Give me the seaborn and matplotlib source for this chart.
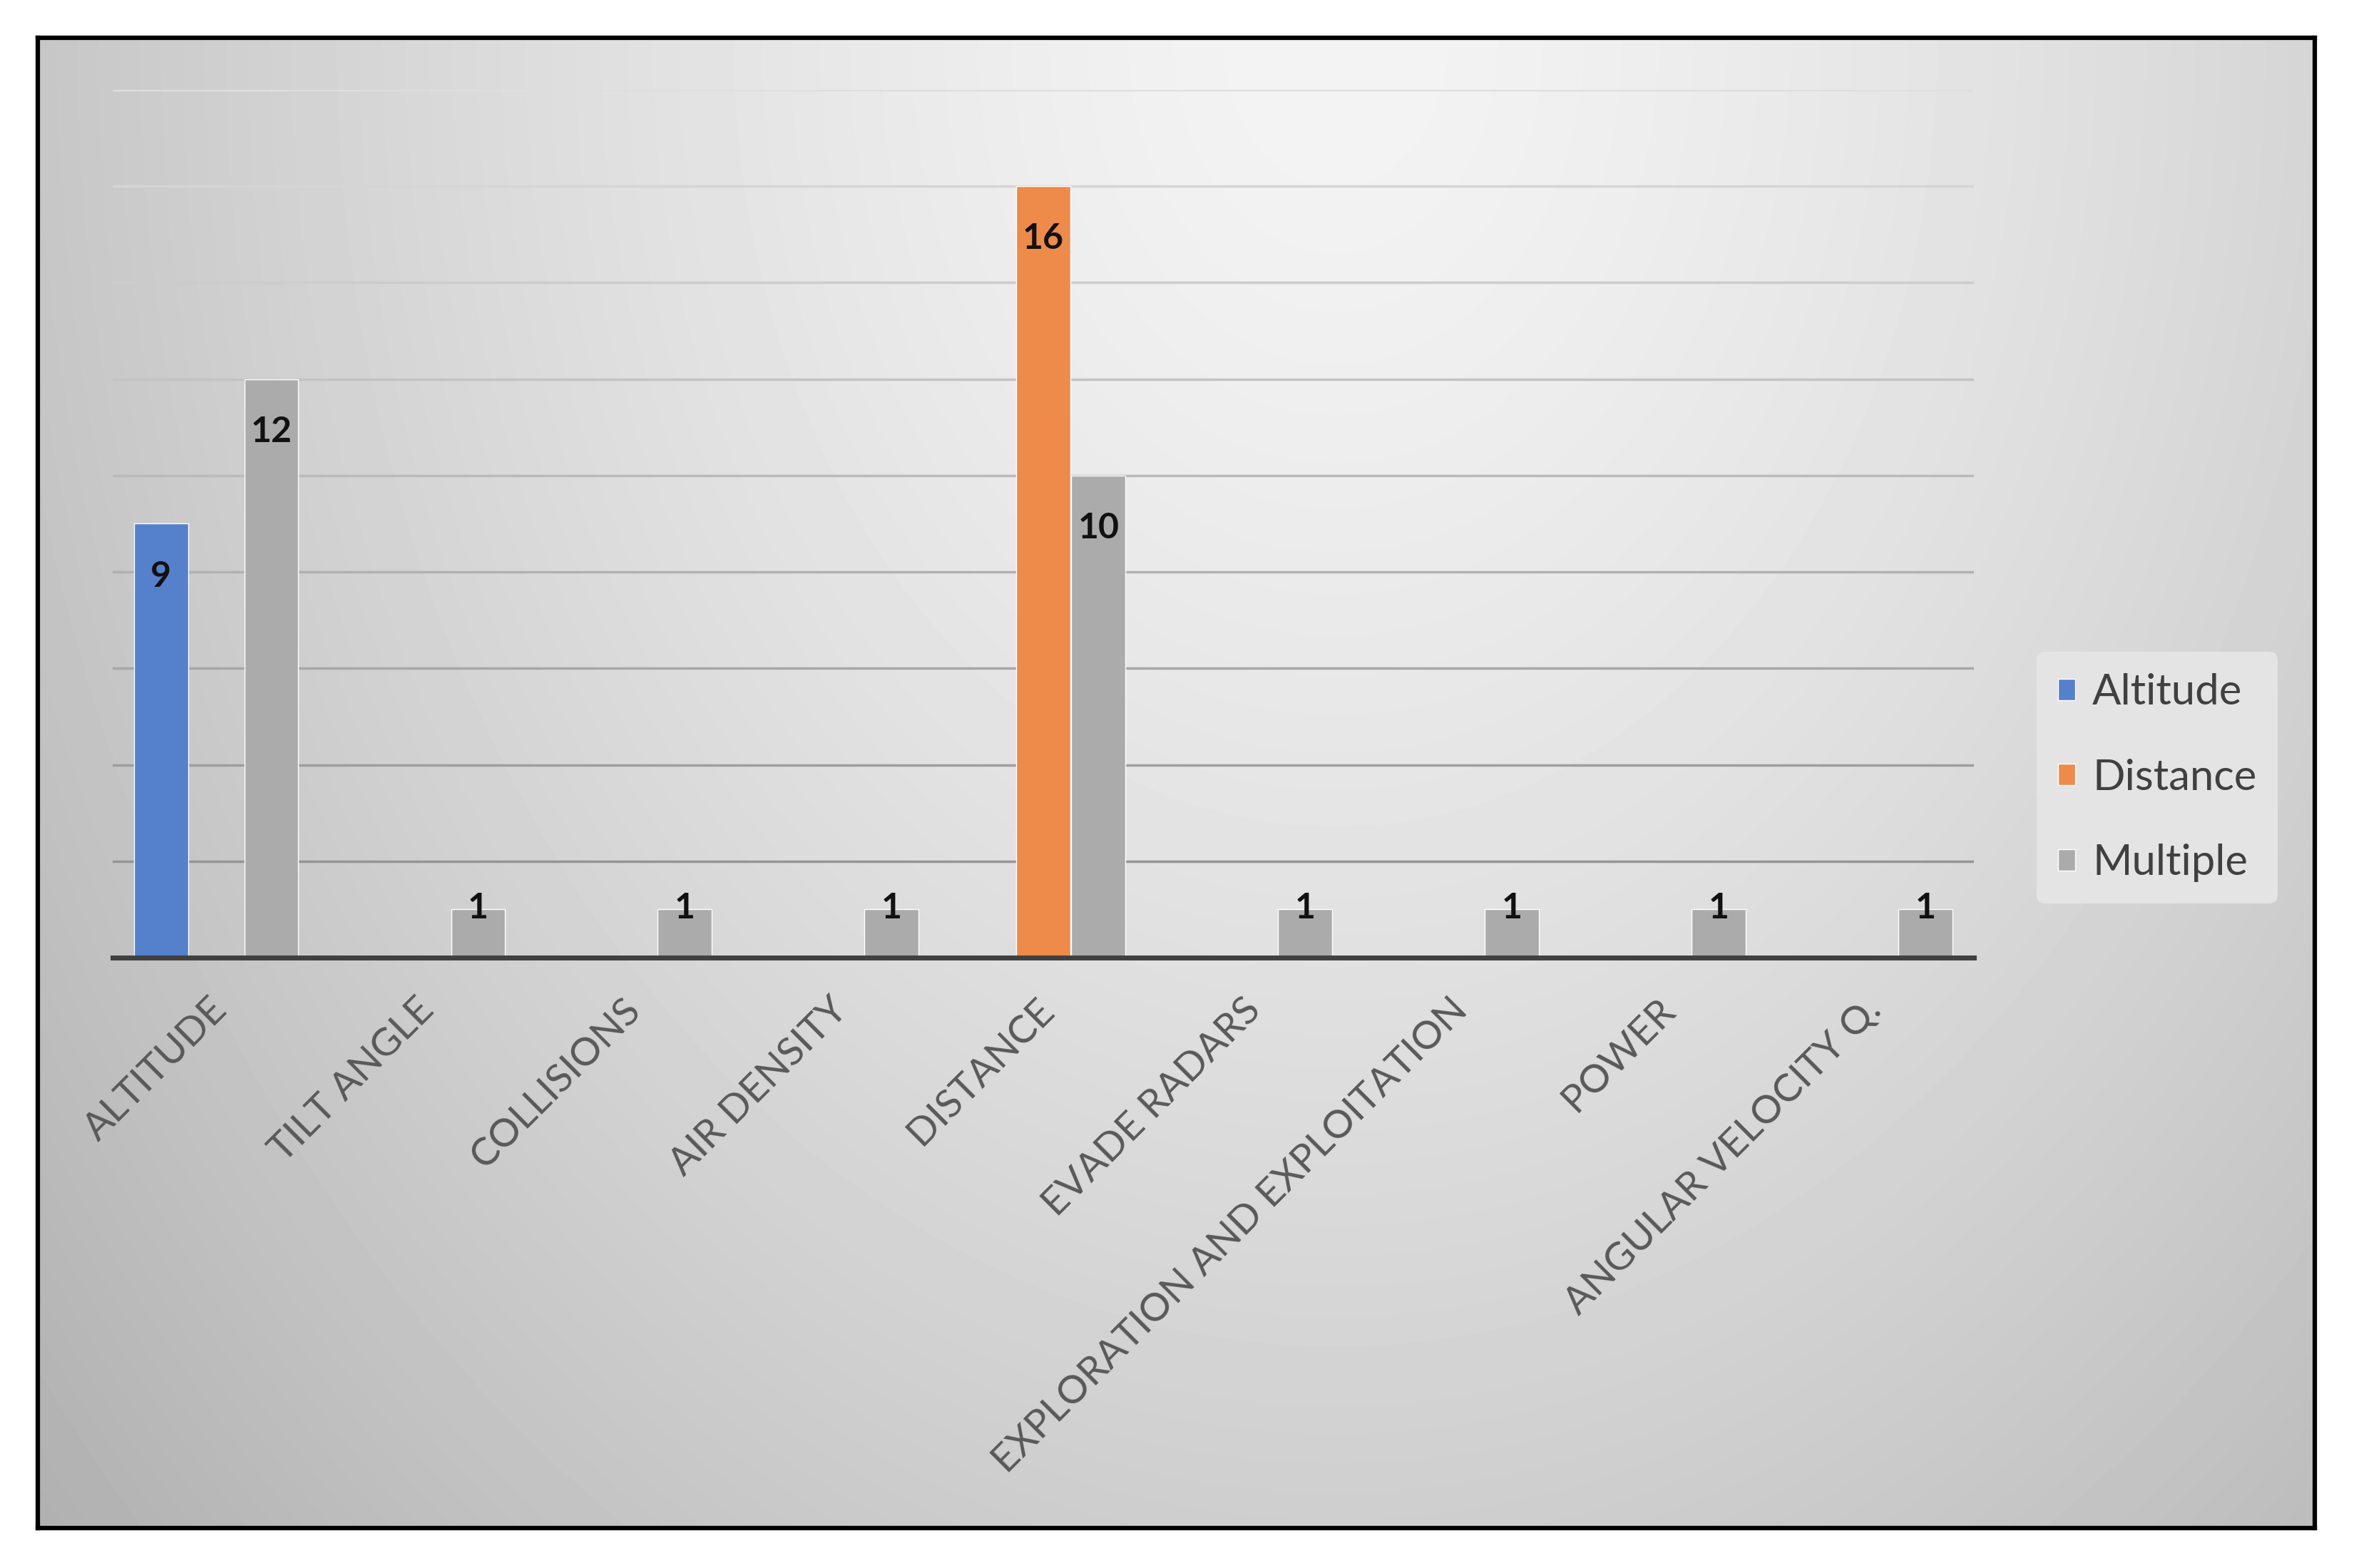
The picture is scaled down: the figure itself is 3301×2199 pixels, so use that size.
import matplotlib
matplotlib.use("Agg")
import matplotlib.pyplot as plt
import matplotlib.transforms as mtransforms
import numpy as np
import pandas as pd
import seaborn as sns

# %% data
categories = [
    "ALTITUDE",
    "TILT ANGLE",
    "COLLISIONS",
    "AIR DENSITY",
    "DISTANCE",
    "EVADE RADARS",
    "EXPLORATION AND EXPLOITATION",
    "POWER",
    "ANGULAR VELOCITY Q.",
]
groups = ["Altitude", "Distance", "Multiple"]
altitude_vals = [9, None, None, None, None, None, None, None, None]
distance_vals = [None, None, None, None, 16, None, None, None, None]
multiple_vals = [12, 1, 1, 1, 10, 1, 1, 1, 1]
colors = ["#5580CC", "#EE8A4A", "#ABABAB"]

rows = []
for grp, vals in zip(groups, [altitude_vals, distance_vals, multiple_vals]):
    for cat, v in zip(categories, vals):
        if v is not None:
            rows.append({"factor": cat, "group": grp, "count": v})
df = pd.DataFrame(rows)

# %% style
sns.set_style("white")
plt.rcParams["font.family"] = ["Lato", "DejaVu Sans"]

fig = plt.figure(figsize=(33.01, 21.99), dpi=100)
fig.patch.set_facecolor("white")

# gradient background panel with black frame
bg = fig.add_axes([0.016, 0.0255, 0.9673, 0.9504], zorder=0)
gx, gy = np.meshgrid(np.linspace(0, 1, 400), np.linspace(0, 1, 300))
dist = np.sqrt(((gx - 0.57) / 0.6) ** 2 + ((gy - 0.0) / 1.2) ** 2)
shade = np.clip(0.955 - 0.19 * dist ** 1.4, 0, 1)
bg.imshow(shade, cmap="gray", vmin=0, vmax=1, aspect="auto",
          extent=[0, 1, 0, 1], origin="upper", interpolation="bicubic")
bg.set_xticks([])
bg.set_yticks([])
for sp in bg.spines.values():
    sp.set_color("black")
    sp.set_linewidth(4.5)

# %% bars
ax = fig.add_axes([0.0479, 0.3893, 0.7906, 0.5534], zorder=1)
ax.patch.set_alpha(0)
sns.barplot(data=df, x="factor", y="count", hue="group", order=categories,
            hue_order=groups, palette=colors, saturation=1, width=0.8,
            gap=0.02, ax=ax, zorder=3)

ax.set_ylim(0, 18)
ax.set_xlim(-0.5, len(categories) - 0.5)
ax.set_yticks(np.arange(0, 19, 2))
ax.set_yticklabels([])
ax.set_xlabel("")
ax.set_ylabel("")
ax.tick_params(axis="y", length=0)
ax.tick_params(axis="x", length=0, pad=47, labelsize=39.5, labelcolor="#595959")
shift = mtransforms.ScaledTranslation(0.07, 0, fig.dpi_scale_trans)
for lbl in ax.get_xticklabels():
    lbl.set_rotation(45)
    lbl.set_ha("right")
    lbl.set_va("center")
    lbl.set_rotation_mode("anchor")
    lbl.set_transform(lbl.get_transform() + shift)

ax.grid(axis="y", zorder=0, linewidth=2.5)
ax.set_axisbelow(True)
glines = ax.get_ygridlines()
for i, gl in enumerate(glines):
    level = i / (len(glines) - 1)
    gl.set_color(str(0.55 + 0.32 * level))

for side in ["left", "top", "right"]:
    ax.spines[side].set_visible(False)
ax.spines["bottom"].set_color("#404040")
ax.spines["bottom"].set_linewidth(5)
ax.spines["bottom"].set_zorder(5)

# value labels
for cont in ax.containers:
    for rect in cont:
        h = rect.get_height()
        if not np.isfinite(h) or h == 0:
            continue
        ypos = h - 1.09 if h > 2 else h + 0.03
        ax.text(rect.get_x() + rect.get_width() / 2, ypos, f"{int(h)}",
                ha="center", va="center", fontsize=36, fontweight="bold",
                color="#111111", zorder=6)

# legend
handles, labels = ax.get_legend_handles_labels()
leg = ax.legend(handles, labels, loc="center", bbox_to_anchor=(0.9165, 0.504),
                bbox_transform=fig.transFigure, fontsize=43, frameon=True,
                handlelength=0.4, handleheight=0.4, handletextpad=0.4,
                labelspacing=1.1, borderpad=0.5, borderaxespad=0)
leg.get_frame().set_facecolor("#E4E4E4")
leg.get_frame().set_edgecolor("none")
leg.get_frame().set_alpha(1)
for t in leg.get_texts():
    t.set_color("#404040")

fig.savefig("out.png", dpi=100)
